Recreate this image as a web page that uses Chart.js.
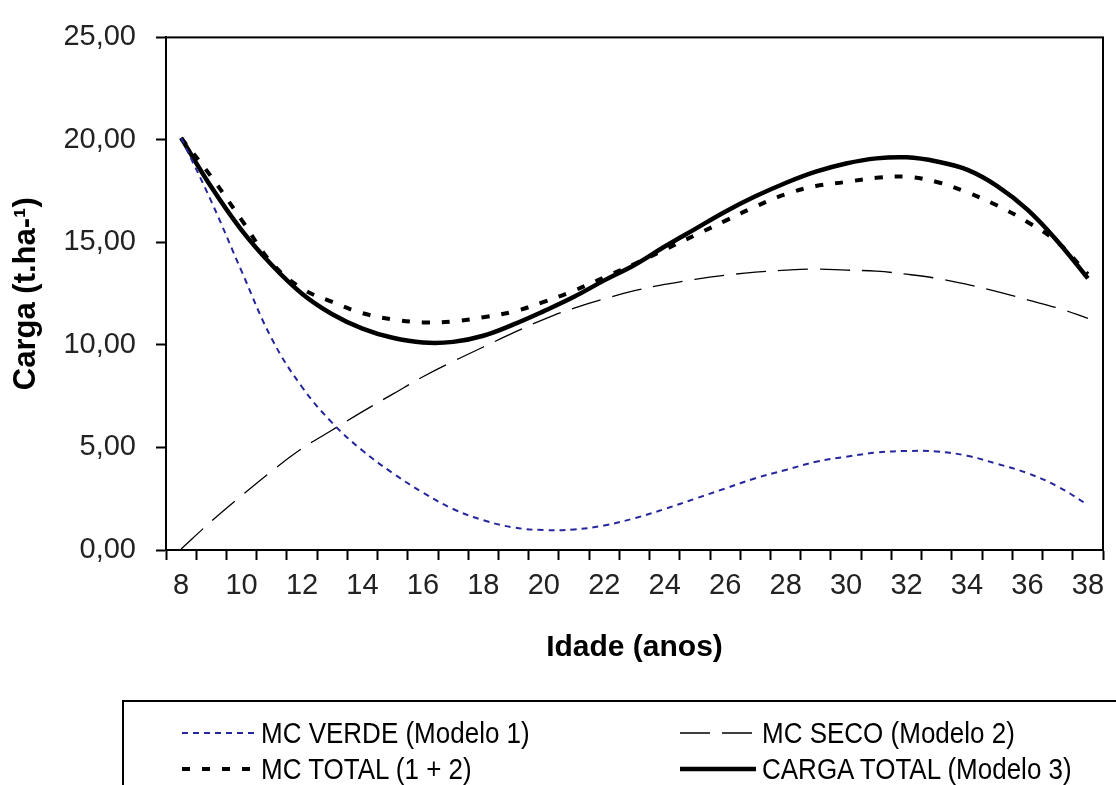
<!DOCTYPE html>
<html>
<head>
<meta charset="utf-8">
<script src="https://cdn.jsdelivr.net/npm/chart.js@4.4.0/dist/chart.umd.min.js"></script>
<style>
  html, body { margin: 0; padding: 0; background: #fff; overflow: hidden; }
  #wrap { position: relative; width: 1116px; height: 785px; overflow: hidden; }
  #legend { position: absolute; left: 122px; top: 700px; width: 1100px; height: 140px;
            border: 2px solid #000; box-sizing: border-box; }
  .item { position: absolute; height: 34px; display: flex; align-items: center;
          font-family: "Liberation Sans", Arial, sans-serif; font-size: 26px; color: #000;
          white-space: nowrap; }
  .item span { display: inline-block; transform: scaleY(1.12); }
  .item svg { display: block; margin-right: 6px; }
</style>
</head>
<body>
<div id="wrap">
  <canvas id="chart" width="1116" height="785"></canvas>
  <div id="legend"></div>
</div>
<script>
// idade (anos)
const years = [8, 9, 10, 11, 12, 13, 14, 15, 16, 17, 18, 19, 20, 21, 22, 23,
               24, 25, 26, 27, 28, 29, 30, 31, 32, 33, 34, 35, 36, 37, 38];

// valores (t/ha)
const mcVerde = [20.1, 17.0, 13.6, 10.3, 7.95, 6.2, 4.85, 3.75, 2.8, 2.0, 1.45, 1.1, 0.97, 1.0, 1.2, 1.55,
                 2.0, 2.5, 3.0, 3.5, 3.9, 4.3, 4.55, 4.75, 4.83, 4.8, 4.6, 4.2, 3.75, 3.1, 2.2];
const mcSeco = [0.05, 1.4, 2.65, 3.85, 4.95, 5.85, 6.75, 7.6, 8.45, 9.2, 9.9, 10.6, 11.25, 11.8, 12.25, 12.65,
                12.95, 13.2, 13.4, 13.55, 13.65, 13.7, 13.65, 13.6, 13.45, 13.25, 12.95, 12.6, 12.2, 11.8, 11.3];
const mcTotal = [20.1, 18.2, 16.1, 14.0, 12.75, 12.1, 11.55, 11.25, 11.1, 11.15, 11.35, 11.63, 12.1, 12.65, 13.3, 13.95,
                 14.65, 15.35, 16.05, 16.75, 17.35, 17.75, 17.95, 18.15, 18.2, 17.95, 17.45, 16.8, 16.0, 15.0, 13.45];
const cargaTotal = [20.1, 17.7, 15.6, 13.9, 12.5, 11.5, 10.8, 10.35, 10.12, 10.15, 10.45, 11.0, 11.65, 12.35, 13.15, 13.9,
                    14.8, 15.65, 16.5, 17.25, 17.9, 18.45, 18.85, 19.1, 19.15, 18.95, 18.55, 17.75, 16.6, 15.05, 13.25];

const seriesNames = ['MC VERDE (Modelo 1)', 'MC SECO (Modelo 2)', 'MC TOTAL (1 + 2)', 'CARGA TOTAL (Modelo 3)'];
const yTicks = [0, 5, 10, 15, 20, 25];

const FONT = '"Liberation Sans", Arial, sans-serif';
Chart.defaults.font.family = FONT;

// moldura da area do grafico (linhas de cima e da direita)
const frame = {
  id: 'frame',
  beforeDatasetsDraw(chart) {
    const { ctx, chartArea: a } = chart;
    ctx.save();
    ctx.strokeStyle = '#000';
    ctx.lineWidth = 2;
    ctx.strokeRect(a.left, a.top, a.right - a.left, a.bottom - a.top);
    ctx.restore();
  }
};

const ctx = document.getElementById('chart').getContext('2d');
const chart = new Chart(ctx, {
  type: 'line',
  data: {
    labels: years.map(String),
    datasets: [
      { label: seriesNames[0], data: mcVerde, borderColor: '#26269c', borderWidth: 2, borderDash: [6, 5] },
      { label: seriesNames[1], data: mcSeco, borderColor: '#000', borderWidth: 1.3, borderDash: [30, 12] },
      { label: seriesNames[2], data: mcTotal, borderColor: '#000', borderWidth: 4, borderDash: [8, 12] },
      { label: seriesNames[3], data: cargaTotal, borderColor: '#000', borderWidth: 4.5 }
    ]
  },
  options: {
    responsive: false,
    animation: false,
    layout: { padding: { left: 0, top: 27, right: 13, bottom: 0 } },
    elements: { point: { radius: 0 }, line: { tension: 0.4, fill: false } },
    plugins: { legend: { display: false }, tooltip: { enabled: false } },
    scales: {
      x: {
        type: 'category',
        offset: true,
        grid: { offset: true, drawOnChartArea: false, drawTicks: true, tickLength: 10,
                tickColor: '#000', tickWidth: 2 },
        border: { display: true, color: '#000', width: 2 },
        ticks: {
          autoSkip: false, maxRotation: 0, padding: 9, color: '#222',
          font: { size: 29 },
          callback: (v, i) => (years[i] % 2 === 0 ? String(years[i]) : '')
        },
        title: { display: true, text: 'Idade (anos)', color: '#000',
                 font: { size: 30, weight: 'bold' }, padding: { top: 0, bottom: 119 } },
        afterFit: (s) => { s.height = 235; }
      },
      y: {
        min: 0, max: 25,
        afterBuildTicks: (s) => { s.ticks = yTicks.map(v => ({ value: v })); },
        grid: { drawOnChartArea: false, drawTicks: true, tickLength: 10,
                tickColor: '#000', tickWidth: 2 },
        border: { display: true, color: '#000', width: 2 },
        ticks: { padding: 20, color: '#222', font: { size: 29 },
                 callback: (v) => v.toFixed(2).replace('.', ',') },
        title: { display: true, text: 'Carga (t.ha-¹)', color: '#000',
                 font: { size: 31, weight: 'bold' }, padding: { top: 8, bottom: 0 } },
        afterFit: (s) => { s.width = 166; }
      }
    }
  },
  plugins: [frame]
});

// legenda em caixa, duas colunas
const slots = [[182, 733, 73], [680, 733, 76], [182, 769, 73], [680, 769, 76]];
const legend = document.getElementById('legend');
chart.data.datasets.forEach((ds, i) => {
  const [x, y, w] = slots[i];
  const item = document.createElement('div');
  item.className = 'item';
  item.style.left = (x - 122 - 2) + 'px';
  item.style.top = (y - 700 - 2 - 17) + 'px';
  const dash = ds.borderDash ? ds.borderDash.join(' ') : 'none';
  item.innerHTML =
    '<svg width="' + w + '" height="10"><line x1="0" y1="5" x2="' + w + '" y2="5" stroke="' + ds.borderColor +
    '" stroke-width="' + ds.borderWidth + '" stroke-dasharray="' + dash + '"/></svg>' +
    '<span>' + ds.label + '</span>';
  legend.appendChild(item);
});
</script>
</body>
</html>
